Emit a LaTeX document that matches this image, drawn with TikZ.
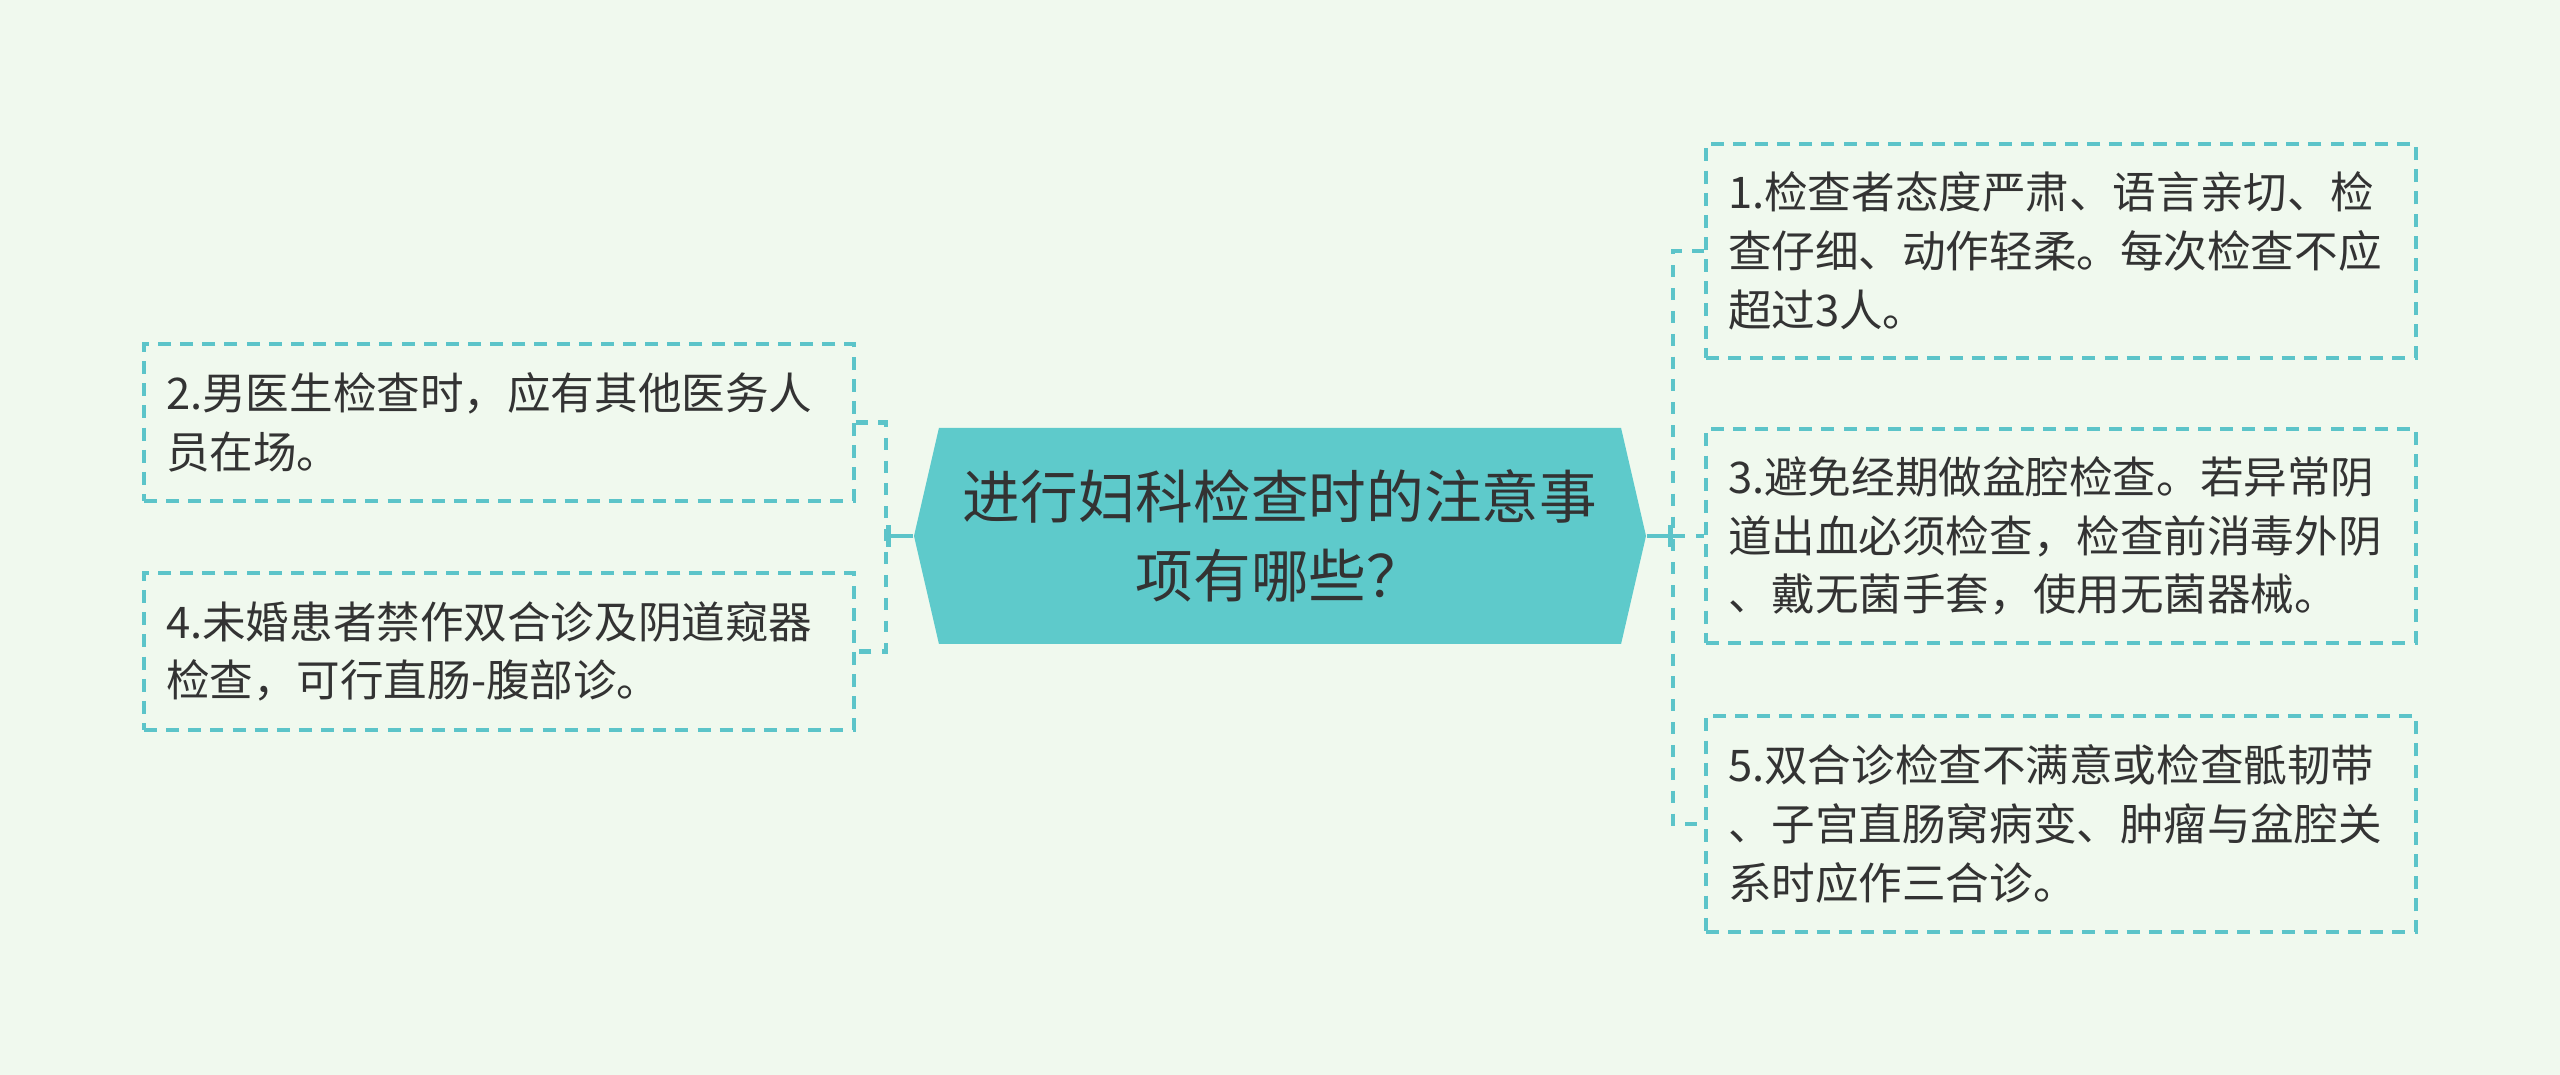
\documentclass[tikz,border=0pt]{standalone}
\usepackage{fontspec}
\setmainfont{Noto Sans CJK SC}
\usetikzlibrary{shapes.symbols,arrows.meta,positioning}

\definecolor{bgmint}{RGB}{240,249,238}
\definecolor{topicteal}{RGB}{94,202,203}
\definecolor{lineteal}{RGB}{92,196,201}
\definecolor{textdark}{RGB}{51,51,51}

\begin{document}
\begin{tikzpicture}[
    topic/.style={shape=signal, signal to=west and east, signal pointer angle=154, fill=topicteal, draw=none, minimum width=7.32cm, minimum height=2.16cm, inner sep=0pt, align=center, text=textdark, font=\fontsize{16.4}{22.3}\selectfont},
    notebox/.style={rectangle, draw=lineteal, line width=0.9pt, dash pattern=on 3.7pt off 2.6pt, minimum width=7.1cm, text width=6.66cm, inner xsep=0.22cm, align=left, text=textdark, font=\fontsize{12.4}{16.7}\selectfont},
    link/.style={draw=lineteal, line width=1.3pt, -{Bar[width=6pt, line width=1.3pt]}},
    dlink/.style={draw=lineteal, line width=1.3pt, dash pattern=on 3.4pt off 3.1pt}
]

% === Background and page size ===
\fill[bgmint] (0,0) rectangle (25.6,10.75);

% === Central topic ===
\node[topic] (topic) at (12.80, 5.39) {进行妇科检查时的注意事\\项有哪些？};

% === Left branch ===
\node[notebox, minimum height=1.57cm] (male) at (4.99, 6.525) {2.男医生检查时，应有其他医务人\\员在场。};
\node[notebox, minimum height=1.57cm] (unwed) at (4.99, 4.235) {4.未婚患者禁作双合诊及阴道窥器\\检查，可行直肠-腹部诊。};

% === Right branch ===
\node[notebox, minimum height=2.14cm] (attitude) at (20.61, 8.24) {1.检查者态度严肃、语言亲切、检\\查仔细、动作轻柔。每次检查不应\\超过3人。};
\node[notebox, minimum height=2.14cm] (period) at (20.61, 5.39) {3.避免经期做盆腔检查。若异常阴\\道出血必须检查，检查前消毒外阴\\、戴无菌手套，使用无菌器械。};
\node[notebox, minimum height=2.16cm] (triple) at (20.61, 2.51) {5.双合诊检查不满意或检查骶韧带\\、子宫直肠窝病变、肿瘤与盆腔关\\系时应作三合诊。};

% === Junction points ===
\coordinate (ljoin) at (8.86, 5.39);
\coordinate (rjoin) at (16.73, 5.39);

% === Connectors ===
\draw[link] (topic.west) -- (ljoin);
\draw[dlink] (male.east) -| (ljoin) |- (unwed.east);

\draw[link] (topic.east) -- (rjoin);
\draw[dlink] (attitude.west) -| (rjoin) |- (triple.west);
\draw[dlink] (rjoin) -- (period.west);

\end{tikzpicture}
\end{document}
